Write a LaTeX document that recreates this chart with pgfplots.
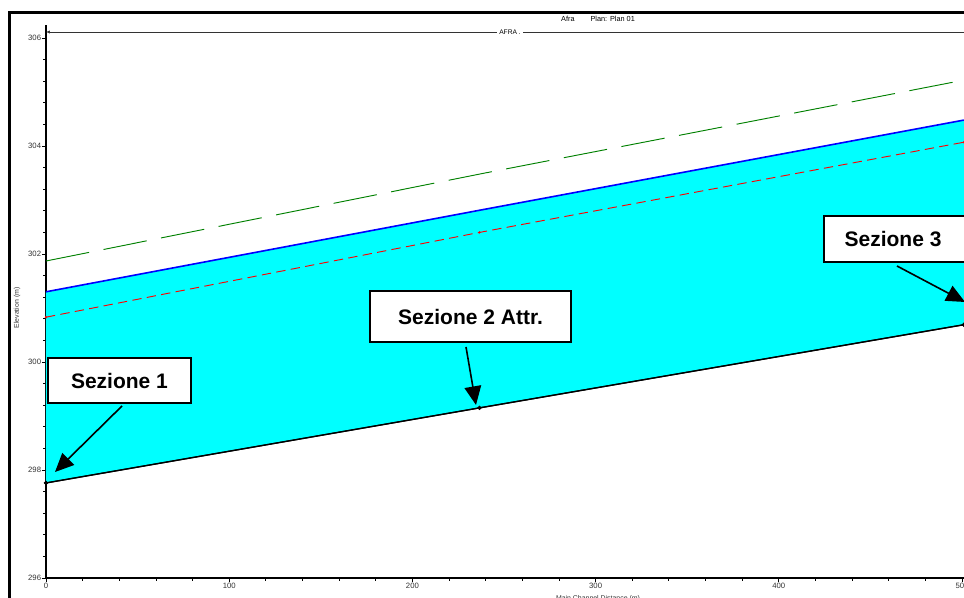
\documentclass[border=0pt]{standalone}
\usepackage{pgfplots}
\pgfplotsset{compat=1.18}
\usepgfplotslibrary{fillbetween}
\usetikzlibrary{arrows.meta}
\usepackage{fontspec}
\setmainfont{Liberation Sans}
\definecolor{wscyan}{RGB}{0,255,255}
\definecolor{egreen}{RGB}{0,128,0}
\begin{document}
\begin{tikzpicture}
\begin{axis}[
  at={(0,0)}, anchor=south west,
  scale only axis,
  width=714.5pt, height=414.7pt,
  xmin=0, xmax=520, ymin=296, ymax=306.24,
  axis x line=bottom, axis y line=left,
  axis line style={-, line width=1pt, black},
  tick align=outside,
  xtick={0,100,200,300,400,500},
  ytick={296,298,300,302,304,306},
  minor x tick num=4, minor y tick num=4,
  major tick length=3pt, minor tick length=2pt,
  tick style={black, line width=0.6pt},
  /pgf/number format/assume math mode=true,
  ticklabel style={font=\fontsize{5.8}{6}\selectfont, text=black!80},
  xticklabel style={inner ysep=1pt},
  yticklabel style={inner xsep=0.5pt},
  clip=false,
]
\addplot[name path=bed, black, line width=0.9pt, mark=*, mark size=0.9pt]
  coordinates {(0,297.76) (236.6,299.15) (501,300.69)};
\addplot[name path=ws, draw=none, forget plot]
  coordinates {(0,301.30) (236.6,302.81) (501,304.48)};
\addplot[wscyan, draw=none] fill between[of=bed and ws];
\addplot[black, line width=1pt, mark=*, mark size=1pt]
  coordinates {(0,297.76) (236.6,299.15) (501,300.69)};
\addplot[blue, line width=1.2pt]
  coordinates {(0,301.30) (236.6,302.81) (501,304.48)};
\addplot[red, line width=0.7pt, dash pattern=on 7pt off 4pt, mark=*, mark size=0.5pt, mark options={solid}]
  coordinates {(0,300.83) (236.6,302.40) (501,304.07)};
\addplot[egreen, line width=0.7pt, dash pattern=on 33pt off 11pt]
  coordinates {(0,301.87) (236.6,303.48) (501,305.22)};
\end{axis}
% outer frame
\draw[line width=2.25pt, black] (-27.375pt,-20pt) -- (-27.375pt,424.125pt) -- (700pt,424.125pt);
% reach line
\draw[line width=0.5pt, black!80, {Latex[length=3pt,width=2.5pt]}-] (0,409.5pt) -- (700pt,409.5pt);
\node[fill=white, inner xsep=1.5pt, inner ysep=0.5pt, font=\fontsize{5}{5}\selectfont] at (348pt,409.5pt) {AFRA .};
% title
\node[font=\fontsize{5.5}{6}\selectfont] at (414pt,419.25pt) {Afra\hspace{12pt}Plan: Plan 01};
% axis labels
\node[rotate=90, font=\fontsize{5.2}{6}\selectfont, text=black!80] at (-21.75pt,202.5pt) {Elevation (m)};
\node[font=\fontsize{5.2}{6}\selectfont, text=black!80] at (414pt,-15.75pt) {Main Channel Distance (m)};
% annotations
\draw[line width=1.5pt, fill=white] (1.5pt,165pt) rectangle (108.75pt,131.25pt);
\node[font=\fontsize{15.75}{16}\bfseries] at (55.1pt,148.1pt) {Sezione 1};
\draw[line width=1.2pt, -{Triangle[length=14pt,width=12.5pt]}] (57pt,129pt) -- (6.75pt,79.5pt);
\draw[line width=1.5pt, fill=white] (243pt,215.25pt) rectangle (393.75pt,177pt);
\node[font=\fontsize{15.75}{16}\bfseries] at (318.4pt,196.1pt) {Sezione 2 Attr.};
\draw[line width=1.2pt, -{Triangle[length=14pt,width=12.5pt]}] (315pt,173.25pt) -- (322.5pt,129.75pt);
\draw[line width=1.5pt, fill=white] (583.5pt,271.5pt) rectangle (691.5pt,237pt);
\node[font=\fontsize{15.75}{16}\bfseries] at (635.25pt,254.25pt) {Sezione 3};
\draw[line width=1.2pt, -{Triangle[length=14pt,width=12.5pt]}] (638.25pt,234pt) -- (689.25pt,207pt);
\pgfresetboundingbox
\path[use as bounding box] (-34.5pt,-15pt) rectangle (688.5pt,433.5pt);
\end{tikzpicture}
\end{document}
